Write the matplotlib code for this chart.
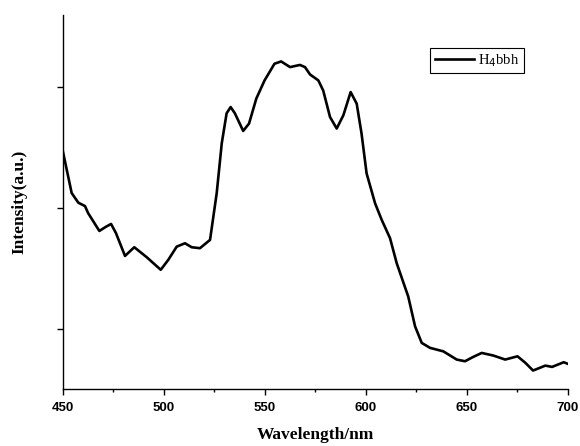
import numpy as np
import matplotlib
matplotlib.use("Agg")
import matplotlib.pyplot as plt
from matplotlib.ticker import MultipleLocator

# wavelength (nm) and intensity (a.u.)
wavelength = [450.0, 454.3, 457.6, 460.9, 462.4, 468.0, 471.3, 473.8, 476.2, 480.7,
              485.3, 491.4, 498.4, 502.1, 506.3, 510.4, 513.7, 517.8, 522.8, 526.1,
              528.6, 531.0, 533.0, 535.1, 539.2, 542.1, 545.7, 549.8, 554.7, 558.0,
              562.4, 567.3, 569.8, 572.3, 576.4, 578.8, 582.2, 585.5, 588.8, 592.4,
              595.4, 597.8, 600.3, 604.5, 607.8, 611.9, 615.2, 620.9, 624.3, 627.6,
              631.7, 638.3, 644.9, 649.0, 653.1, 657.3, 663.1, 668.9, 675.0, 678.9,
              682.7, 688.8, 692.1, 697.9, 700.0]
intensity = [246.5, 212.4, 204.4, 201.6, 195.9, 181.0, 184.5, 186.8, 179.3, 160.3,
             167.5, 159.3, 148.8, 157.0, 168.0, 170.8, 167.5, 166.7, 173.6, 212.4,
             253.7, 278.5, 283.7, 278.5, 263.9, 270.0, 290.7, 305.8, 319.6, 321.5,
             316.8, 318.6, 316.8, 310.7, 305.8, 297.5, 275.4, 265.9, 276.9, 296.1,
             286.5, 261.7, 228.7, 203.9, 190.1, 175.0, 154.3, 126.7, 101.9, 88.2,
             84.1, 81.2, 74.4, 73.0, 76.6, 79.9, 77.7, 74.4, 77.1, 71.7,
             65.3, 69.4, 68.3, 72.2, 70.8]

x_ticks = [450, 500, 550, 600, 650, 700]
y_ticks = [100, 200, 300]


def main():
    fig = plt.figure(figsize=(5.8, 4.46), dpi=100)
    ax = fig.add_axes([0.1086, 0.1278, 0.8707, 0.8386])

    ax.plot(wavelength, intensity, color="black", lw=1.9,
            solid_joinstyle="round", label="H$_4$bbh")

    ax.set_xlim(450, 700)
    ax.set_ylim(50, 360)
    ax.set_xticks(x_ticks)
    ax.xaxis.set_minor_locator(MultipleLocator(25))
    ax.set_yticks(y_ticks)
    ax.set_yticklabels([])

    ax.spines["top"].set_visible(False)
    ax.spines["right"].set_visible(False)
    for s in ("left", "bottom"):
        ax.spines[s].set_linewidth(1.0)

    ax.tick_params(which="major", direction="out", length=4.5, width=1.0, pad=5)
    ax.tick_params(which="minor", direction="out", length=2.5, width=1.0)
    for lab in ax.get_xticklabels():
        lab.set_fontfamily("Liberation Sans")
        lab.set_fontweight("bold")
        lab.set_fontsize(9.5)

    ax.set_xlabel("Wavelength/nm", fontfamily="Liberation Serif",
                  fontweight="bold", fontsize=12.5, labelpad=9)
    ax.set_ylabel("Intensity(a.u.)", fontfamily="Liberation Serif",
                  fontweight="bold", fontsize=12.5, labelpad=16)

    leg = ax.legend(loc="upper left", bbox_to_anchor=(0.727, 0.912),
                    prop={"family": "Liberation Serif", "size": 10.5},
                    fancybox=False, framealpha=1, edgecolor="black",
                    handlelength=2.7, borderpad=0.3, handletextpad=0.3,
                    borderaxespad=0)
    leg.get_frame().set_linewidth(0.8)

    fig.savefig("out.png", dpi=100)


if __name__ == "__main__":
    main()
